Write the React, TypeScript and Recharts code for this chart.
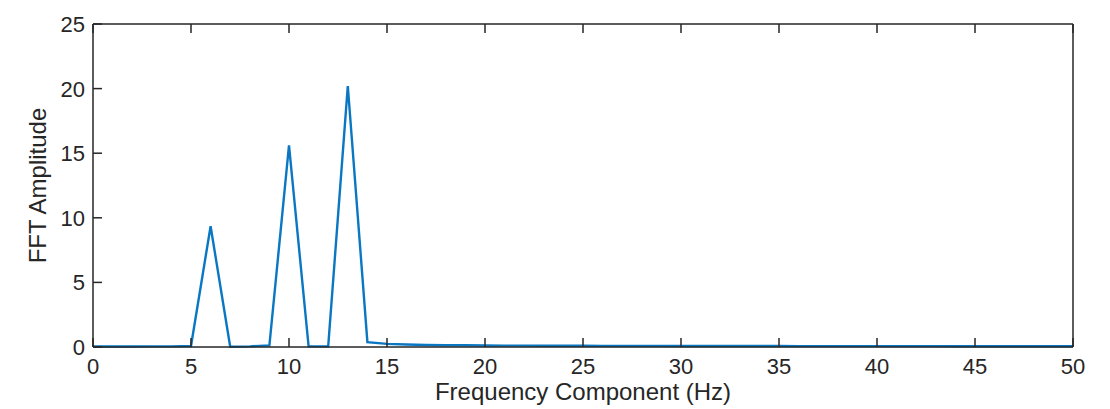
import { LineChart, Line, XAxis, YAxis, Label } from 'recharts';

// single-sided FFT amplitude, sampled at integer frequencies (Hz)
const frequencies = [
  0, 1, 2, 3, 4, 5, 6, 7, 8, 9, 10, 11, 12, 13, 14, 15, 16, 17, 18, 19, 20, 21, 22, 23, 24, 25,
  26, 27, 28, 29, 30, 31, 32, 33, 34, 35, 36, 37, 38, 39, 40, 41, 42, 43, 44, 45, 46, 47, 48, 49, 50,
];
const amplitudes = [
  0.04, 0.04, 0.04, 0.05, 0.05, 0.08, 9.35, 0.02, 0.05, 0.12, 15.6, 0.05, 0.05, 20.2, 0.38, 0.24,
  0.19, 0.16, 0.14, 0.13, 0.12, 0.11, 0.11, 0.1, 0.1, 0.1, 0.09, 0.09, 0.09, 0.09, 0.08, 0.08,
  0.08, 0.08, 0.08, 0.08, 0.07, 0.07, 0.07, 0.07, 0.07, 0.07, 0.07, 0.07, 0.06, 0.06, 0.06, 0.06,
  0.06, 0.06, 0.06,
];
const xTicks = [0, 5, 10, 15, 20, 25, 30, 35, 40, 45, 50];
const yTicks = [0, 5, 10, 15, 20, 25];

const chartData = frequencies.map((f, i) => ({ freq: f, amp: amplitudes[i] }));

const FONT = '"Liberation Sans", Arial, Helvetica, sans-serif';
const INK = '#262626';
const TICK_LEN = 9;

const BottomTick = ({ x, y, payload }: any) => (
  <g>
    <line x1={x} y1={y} x2={x} y2={y - TICK_LEN} stroke={INK} strokeWidth={1.5} />
    <text x={x} y={y + 27} textAnchor="middle" fill={INK} fontSize={22} fontFamily={FONT}>
      {payload.value}
    </text>
  </g>
);

const TopTick = ({ x, y }: any) => (
  <line x1={x} y1={y} x2={x} y2={y + TICK_LEN} stroke={INK} strokeWidth={1.5} />
);

const LeftTick = ({ x, y, payload }: any) => (
  <g>
    <line x1={x} y1={y} x2={x + TICK_LEN} y2={y} stroke={INK} strokeWidth={1.5} />
    <text x={x - 8} y={y + 8} textAnchor="end" fill={INK} fontSize={22} fontFamily={FONT}>
      {payload.value}
    </text>
  </g>
);

const RightTick = ({ x, y }: any) => (
  <line x1={x} y1={y} x2={x - TICK_LEN} y2={y} stroke={INK} strokeWidth={1.5} />
);

export default function App() {
  return (
    <div style={{ position: 'absolute', left: 0, top: 0, width: 1110, height: 409, background: '#fff' }}>
      <LineChart
        width={1110}
        height={409}
        data={chartData}
        margin={{ top: 23, right: 36, left: 0, bottom: 0 }}
      >
        <XAxis
          dataKey="freq"
          type="number"
          domain={[0, 50]}
          ticks={xTicks}
          interval={0}
          height={62}
          tickSize={0}
          tickMargin={0}
          tick={<BottomTick />}
          axisLine={{ stroke: INK, strokeWidth: 1.5 }}
        >
          <Label
            content={({ viewBox }: any) => (
              <text
                x={viewBox.x + viewBox.width / 2}
                y={viewBox.y + 53}
                textAnchor="middle"
                fill={INK}
                fontSize={24}
                fontFamily={FONT}
              >
                Frequency Component (Hz)
              </text>
            )}
          />
        </XAxis>
        <XAxis
          xAxisId="top"
          orientation="top"
          dataKey="freq"
          type="number"
          domain={[0, 50]}
          ticks={xTicks}
          interval={0}
          height={1}
          tickSize={0}
          tickMargin={0}
          tick={<TopTick />}
          axisLine={{ stroke: INK, strokeWidth: 1.5 }}
        />
        <YAxis
          type="number"
          domain={[0, 25]}
          ticks={yTicks}
          interval={0}
          width={93}
          tickSize={0}
          tickMargin={0}
          tick={<LeftTick />}
          axisLine={{ stroke: INK, strokeWidth: 1.5 }}
        >
          <Label
            content={({ viewBox }: any) => {
              const cx = 37;
              const cy = viewBox.y + viewBox.height / 2;
              return (
                <text
                  x={cx}
                  y={cy}
                  transform={`rotate(-90, ${cx}, ${cy})`}
                  textAnchor="middle"
                  dominantBaseline="central"
                  fill={INK}
                  fontSize={24}
                  fontFamily={FONT}
                >
                  FFT Amplitude
                </text>
              );
            }}
          />
        </YAxis>
        <YAxis
          yAxisId="right"
          orientation="right"
          type="number"
          domain={[0, 25]}
          ticks={yTicks}
          interval={0}
          width={1}
          tickSize={0}
          tickMargin={0}
          tick={<RightTick />}
          axisLine={{ stroke: INK, strokeWidth: 1.5 }}
        />
        <Line
          type="linear"
          dataKey="amp"
          stroke="#0A77C2"
          strokeWidth={2.4}
          dot={false}
          isAnimationActive={false}
        />
      </LineChart>
    </div>
  );
}
